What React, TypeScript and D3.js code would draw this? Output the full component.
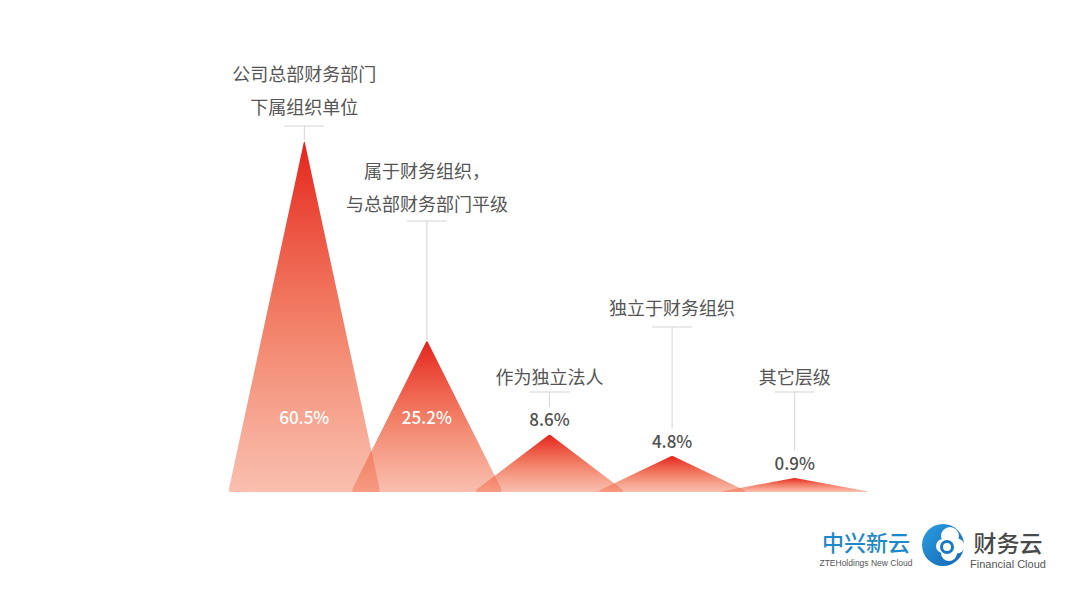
import React from "react";
import * as d3 from "d3";

// ---- data ----
const categories: string[][] = [
  ["公司总部财务部门", "下属组织单位"],
  ["属于财务组织，", "与总部财务部门平级"],
  ["作为独立法人"],
  ["独立于财务组织"],
  ["其它层级"],
];
const values: number[] = [60.5, 25.2, 8.6, 4.8, 0.9];
const valueLabels: string[] = ["60.5%", "25.2%", "8.6%", "4.8%", "0.9%"];

// ---- layout (not data) ----
const W = 1080;
const H = 607;
const labelRuleY = [126, 221, 392, 327, 392];
const labelTextGap = [12, 10, 8, 12, 8];
const insideLabel = [true, true, false, false, false];

export default function App() {
  const ids = values.map((_, i) => String(i));
  const x = d3.scaleBand<string>().domain(ids).range([243, 856]).padding(0);
  const y = d3.scaleLinear().domain([-1.6, 60.5]).range([492, 140]);
  const baseY = y(-1.6);
  const halfW = x.step() * 0.62;

  const triPath = (cx: number, top: number) => {
    const p = d3.path();
    const x0 = cx - halfW;
    const x1 = cx + halfW;
    const h = baseY - top;
    const peakAng = Math.atan(halfW / h);
    const rPeak = Math.min(3, 2 * Math.tan(peakAng));
    const baseAng = Math.atan(h / halfW);
    const rBase = Math.min(2, 4 * Math.tan(baseAng / 2));
    p.moveTo(cx, baseY);
    p.arcTo(x0, baseY, cx, top, rBase);
    p.arcTo(cx, top, x1, baseY, rPeak);
    p.arcTo(x1, baseY, cx, baseY, rBase);
    p.closePath();
    return p.toString();
  };

  const font = "'Noto Sans CJK SC', 'Noto Sans', sans-serif";

  return (
    <svg width={W} height={H} style={{ display: "block", position: "absolute", left: 0, top: 0 }}>
      <defs>
        <linearGradient id="tri" x1="0" y1="0" x2="0" y2="1">
          <stop offset="0" stopColor="rgb(228,36,28)" stopOpacity={1} />
          <stop offset="0.5" stopColor="rgb(238,84,52)" stopOpacity={0.76} />
          <stop offset="1" stopColor="rgb(242,112,76)" stopOpacity={0.45} />
        </linearGradient>
        <linearGradient id="logoBlue" x1="0" y1="0" x2="1" y2="1">
          <stop offset="0" stopColor="#2a9ee0" />
          <stop offset="1" stopColor="#1565b5" />
        </linearGradient>
      </defs>
      <rect width={W} height={H} fill="#ffffff" />

      {values.map((v, i) => {
        const cx = (x(String(i)) as number) + x.bandwidth() / 2;
        const top = y(v);
        return <path key={"t" + i} d={triPath(cx, top)} fill="url(#tri)" />;
      })}

      {values.map((v, i) => {
        const cx = (x(String(i)) as number) + x.bandwidth() / 2;
        const top = y(v);
        const ruleY = labelRuleY[i];
        const lines = categories[i];
        const lastBase = ruleY - labelTextGap[i];
        const lineEnd = insideLabel[i] ? top : top - 27;
        return (
          <g key={"l" + i}>
            {lines.map((t, k) => (
              <text
                key={k}
                x={cx}
                y={lastBase - (lines.length - 1 - k) * 33}
                textAnchor="middle"
                fontFamily={font}
                fontSize={18}
                fill="#555555"
              >
                {t}
              </text>
            ))}
            <line x1={cx - 20} x2={cx + 20} y1={ruleY} y2={ruleY} stroke="#d4d4d8" strokeWidth={1} />
            <line x1={cx} x2={cx} y1={ruleY} y2={lineEnd} stroke="#d4d4d8" strokeWidth={1} />
            <text
              x={cx}
              y={insideLabel[i] ? 424 : top - 8}
              textAnchor="middle"
              fontFamily={font}
              fontSize={17}
              fontWeight={500}
              fill={insideLabel[i] ? "#ffffff" : "#505050"}
            >
              {valueLabels[i]}
            </text>
          </g>
        );
      })}

      {/* logo */}
      <g>
        <text x={866} y={551} textAnchor="middle" fontFamily={font} fontSize={22} fontWeight={500} fill="#1e88c8">
          中兴新云
        </text>
        <text x={866} y={566} textAnchor="middle" fontFamily="'Liberation Sans', Arial, sans-serif" fontSize={8.5} fill="#555">
          ZTEHoldings New Cloud
        </text>
        <circle cx={943} cy={545} r={21} fill="url(#logoBlue)" />
        <g fill="#ffffff">
          <circle cx={950} cy={536} r={9} />
          <circle cx={957} cy={546} r={7.5} />
          <circle cx={949} cy={553} r={8} />
          <circle cx={943} cy={546} r={7} />
        </g>
        <circle cx={947} cy={547} r={5.5} fill="none" stroke="#1a78c2" strokeWidth={3} />
        <text x={1008} y={552} textAnchor="middle" fontFamily={font} fontSize={23} fontWeight={500} fill="#4a4a4a">
          财务云
        </text>
        <text x={1008} y={568} textAnchor="middle" fontFamily="'Liberation Sans', Arial, sans-serif" fontSize={11} fill="#555">
          Financial Cloud
        </text>
      </g>
    </svg>
  );
}
